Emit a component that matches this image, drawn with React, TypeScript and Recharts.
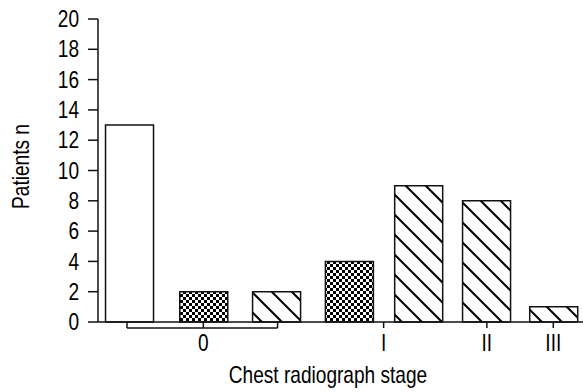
import { BarChart, Bar, XAxis, YAxis, Cell, ReferenceLine } from 'recharts'

// one entry per bar, left to right (x, in bar units)
const barPos = [1, 2.05, 3.08, 4.11, 5.09, 6.05, 7]
const patients = [13, 2, 2, 4, 9, 8, 1]
const fills = ['plain', 'check', 'hatch', 'check', 'hatch', 'hatch', 'hatch']

// stage labels and where they sit on the bar axis
const stageTicks = [2.05, 4.6, 6.06, 7]
const stageLabels = ['0', 'I', 'II', 'III']
const yTicks = [0, 2, 4, 6, 8, 10, 12, 14, 16, 18, 20]

// bracket under the three stage-0 bars
const stage0Span = [0.97, 3.1]

const FILL_URL: Record<string, string> = {
  plain: '#ffffff',
  check: 'url(#check)',
  hatch: 'url(#hatch)',
}

const data = barPos.map((p, i) => ({ pos: p, n: patients[i], fill: fills[i] }))

const font = '"Liberation Sans", Arial, sans-serif'
const ink = '#111'
const FS = 23
const SQUEEZE = 0.83 // narrow face, Liberation Sans squeezed

// text drawn narrow by scaling around its anchor
function Narrow({ x, y, anchor, dy, rotate, children }: any) {
  const t = `translate(${x},${y})${rotate ? ` rotate(${rotate})` : ''} scale(${SQUEEZE},1)`
  return (
    <text transform={t} textAnchor={anchor} dy={dy} fontSize={FS} fontFamily={font} fill="#000">
      {children}
    </text>
  )
}

function YTick({ x, y, payload }: any) {
  return <Narrow x={x} y={y} anchor="end" dy="0.355em">{payload.value}</Narrow>
}

function XTick({ x, y, payload }: any) {
  return <Narrow x={x} y={y} anchor="middle" dy="0.71em">{stageLabels[stageTicks.indexOf(payload.value)] ?? ''}</Narrow>
}

function YLabel({ viewBox }: any) {
  const cy = viewBox.y + viewBox.height / 2 - 4
  return <Narrow x={29} y={cy} anchor="middle" rotate={-90}>Patients n</Narrow>
}

function XLabel({ viewBox }: any) {
  return <Narrow x={328} y={viewBox.y + 61} anchor="middle">Chest radiograph stage</Narrow>
}

export default function App() {
  const [b0, b1] = stage0Span
  return (
    <div style={{ position: 'absolute', left: 0, top: 0, width: 583, height: 392, background: '#fff' }}>
      <BarChart width={583} height={392} data={data} margin={{ top: 19, right: 0, left: 0, bottom: 0 }}>
        <defs>
          <pattern id="hatch" patternUnits="userSpaceOnUse" width={20} height={20}>
            <rect width={20} height={20} fill="#fff" />
            <path d="M0,0 L20,20 M-5,15 L5,25 M15,-5 L25,5" stroke="#000" strokeWidth={2} />
          </pattern>
          <pattern id="check" patternUnits="userSpaceOnUse" width={6} height={6}>
            <rect width={6} height={6} fill="#fff" />
            <rect x={0} y={0} width={3} height={3} fill="#000" />
            <rect x={3} y={3} width={3} height={3} fill="#000" />
          </pattern>
        </defs>
        <XAxis
          type="number"
          dataKey="pos"
          domain={[0.56, 7.42]}
          ticks={stageTicks}
          allowDataOverflow
          height={70}
          tick={<XTick />}
          tickSize={6}
          tickMargin={7}
          axisLine={{ stroke: ink, strokeWidth: 1.5 }}
          tickLine={{ stroke: ink, strokeWidth: 1.5 }}
          label={<XLabel />}
        />
        <YAxis
          domain={[0, 20]}
          ticks={yTicks}
          width={98}
          tick={<YTick />}
          tickSize={10}
          tickMargin={9}
          axisLine={{ stroke: ink, strokeWidth: 1.5 }}
          tickLine={{ stroke: ink, strokeWidth: 1.5 }}
          label={<YLabel />}
          interval={0}
        />
        <Bar dataKey="n" barSize={48} stroke={ink} strokeWidth={1.5} isAnimationActive={false}>
          {data.map((d, i) => (
            <Cell key={i} fill={FILL_URL[d.fill]} />
          ))}
        </Bar>
        <ReferenceLine segment={[{ x: b0, y: -0.4 }, { x: b1, y: -0.4 }]} stroke={ink} strokeWidth={1.5} ifOverflow="visible" />
        <ReferenceLine segment={[{ x: b0, y: 0 }, { x: b0, y: -0.4 }]} stroke={ink} strokeWidth={1.5} ifOverflow="visible" />
        <ReferenceLine segment={[{ x: b1, y: 0 }, { x: b1, y: -0.4 }]} stroke={ink} strokeWidth={1.5} ifOverflow="visible" />
      </BarChart>
    </div>
  )
}
